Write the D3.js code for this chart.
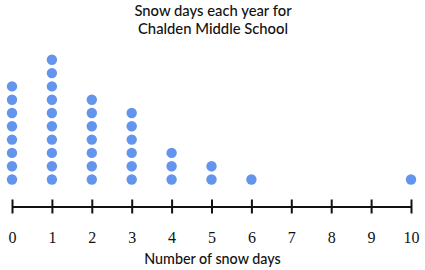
<!DOCTYPE html>
<html>
<head>
<meta charset="utf-8">
<script src="https://cdn.jsdelivr.net/npm/d3@7"></script>
<style>
  html, body { margin: 0; padding: 0; background: #fff; }
  svg { display: block; }
</style>
</head>
<body>
<svg id="chart" width="425" height="270"></svg>
<script>
// Snow days per year: value on the number line and how many years had it
const snowDays = [0, 1, 2, 3, 4, 5, 6, 7, 8, 9, 10];
const yearCounts = [8, 10, 7, 6, 3, 2, 1, 0, 0, 0, 1];
const tickLabels = ["0", "1", "2", "3", "4", "5", "6", "7", "8", "9", "10"];
const titleLines = ["Snow days each year for", "Chalden Middle School"];
const axisTitle = "Number of snow days";

const svg = d3.select("#chart");
const W = 425, H = 270;

const x = d3.scaleLinear().domain([0, 10]).range([12, 411]);
// stack position -> vertical pixel
const y = d3.scaleLinear().domain([0, 9]).range([179.5, 59.8]);
const axisY = 206.5;

const labelFont = "Lato, sans-serif";

// Title
svg.append("text")
  .attr("text-anchor", "middle")
  .style("font-family", labelFont).style("font-size", "14.8px").style("font-weight", 500).attr("fill", "#111")
  .selectAll("tspan").data(titleLines).join("tspan")
  .attr("x", W / 2 + 0.5).attr("y", (d, i) => 15.5 + i * 18).text(d => d);

// Dots
const dots = [];
snowDays.forEach((v, i) => {
  for (let k = 0; k < yearCounts[i]; k++) dots.push({ v, k });
});
svg.append("g").selectAll("circle").data(dots).join("circle")
  .attr("cx", d => x(d.v)).attr("cy", d => y(d.k)).attr("r", 5.2)
  .attr("fill", "#6495ed");

// Number line
const axis = d3.axisBottom(x).tickValues(snowDays).tickSize(0).tickFormat((d, i) => tickLabels[i]);
const gAxis = svg.append("g").attr("transform", `translate(0,${axisY})`).call(axis);
gAxis.select(".domain").attr("stroke", "#111").attr("stroke-width", 2);
gAxis.selectAll(".tick line").attr("y1", -7).attr("y2", 7).attr("stroke", "#111").attr("stroke-width", 2);
gAxis.selectAll(".tick text")
  .attr("y", 36).attr("dy", 0)
  .style("font-family", "'Liberation Serif', 'DejaVu Serif', serif").style("font-size", "16px").attr("fill", "#111");

// Axis title
svg.append("text")
  .attr("x", W / 2).attr("y", 263.5).attr("text-anchor", "middle")
  .style("font-family", labelFont).style("font-size", "14.3px").style("font-weight", 500).attr("fill", "#111")
  .text(axisTitle);
</script>
</body>
</html>
